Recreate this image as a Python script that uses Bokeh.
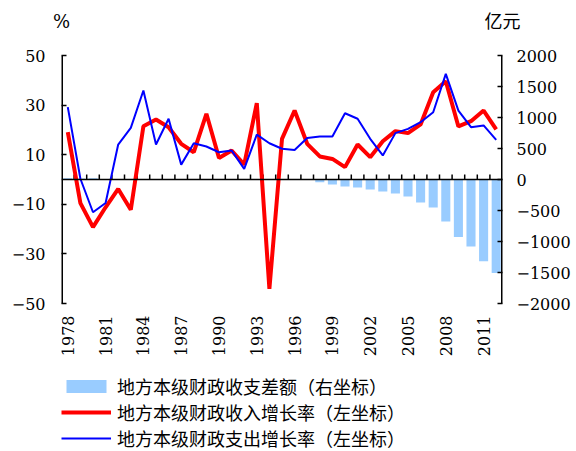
import math
from bokeh.plotting import figure
from bokeh.models import (Range1d, LinearAxis, FixedTicker, Span, Legend, LegendItem,
                          CustomJSTickFormatter, ColumnDataSource)
from bokeh.core.properties import value
from bokeh.embed import file_html
from bokeh.resources import INLINE

years = list(range(1978, 2013))
revenue_growth = [19.1, -9.5, -19.2, -11.2, -3.8, -12.2, 21.5, 24.2, 21.1, 14.4,
                  11.0, 26.5, 8.7, 11.7, 6.0, 30.8, -44.1, 16.4, 27.8, 14.4,
                  9.3, 8.3, 5.0, 14.1, 9.0, 15.4, 19.5, 18.7, 22.2, 35.2,
                  39.6, 21.4, 23.5, 27.8, 20.2]
expenditure_growth = [29.2, 0.3, -13.2, -9.5, 14.1, 20.8, 35.9, 14.1, 24.5, 6.0,
                      14.6, 13.3, 11.0, 11.7, 4.3, 18.1, 14.6, 12.4, 11.9, 16.7,
                      17.3, 17.3, 26.7, 24.5, 16.4, 9.7, 18.7, 20.4, 23.1, 27.1,
                      42.6, 27.8, 21.1, 21.8, 16.0]
balance = [20, 15, 20, 0, 0, 0, 0, 0, 0, 0,
           0, 0, 0, 0, 0, 0, 0, 0, 0, 0,
           -43, -80, -113, -129, -161, -193, -225, -274, -370, -451,
           -677, -929, -1079, -1320, -1509]
left_ticks = [-50, -30, -10, 10, 30, 50]
right_ticks = [-2000, -1500, -1000, -500, 0, 500, 1000, 1500, 2000]
year_ticks = years[::3]

label_bar = "地方本级财政收支差额（右坐标）"
label_rev = "地方本级财政收入增长率（左坐标）"
label_exp = "地方本级财政支出增长率（左坐标）"
unit_labels = ["%", "亿元"]   # left-axis unit, right-axis unit

NUM_FONT = "DejaVu Serif"
CJK_FONT = "Noto Sans CJK SC"

# layout: the value axes cover AXIS_H px at the top of a taller frame whose lower part
# holds the year labels and the legend
FRAME_W, FRAME_H, AXIS_H = 441, 396, 248
left_per_px = (left_ticks[-1] - left_ticks[0]) / AXIS_H
right_per_px = (right_ticks[-1] - right_ticks[0]) / AXIS_H
left_start = left_ticks[-1] - FRAME_H * left_per_px
right_start = right_ticks[-1] - FRAME_H * right_per_px
x_start, x_end = years[0] - 0.5, years[-1] + 0.5

src = ColumnDataSource(dict(year=years, rev=revenue_growth, exp=expenditure_growth, bal=balance))
tick_src = ColumnDataSource(dict(x=[y - 0.5 for y in years[1:]],
                                 y0=[0] * (len(years) - 1),
                                 y1=[5 * left_per_px] * (len(years) - 1)))
year_src = ColumnDataSource(dict(x=year_ticks,
                                 y=[left_ticks[0] - 12 * left_per_px] * len(year_ticks),
                                 t=[str(y) for y in year_ticks]))
axis_src = ColumnDataSource(dict(x=[x_start, x_end],
                                 y0=[left_ticks[0]] * 2, y1=[left_ticks[-1]] * 2))

p = figure(width=576, height=451, frame_width=FRAME_W, frame_height=FRAME_H,
           output_backend="svg", toolbar_location=None, x_axis_location=None,
           x_range=Range1d(x_start, x_end),
           y_range=Range1d(left_start, left_ticks[-1]),
           min_border_left=61, min_border_right=74, min_border_top=55, min_border_bottom=0)
p.extra_y_ranges = {"right": Range1d(right_start, right_ticks[-1])}
p.extra_x_ranges = {"units": Range1d(0, 1)}
p.grid.visible = False
p.outline_line_color = None
p.background_fill_color = "white"
p.border_fill_color = "white"

minus_fmt = CustomJSTickFormatter(code="return tick < 0 ? '\u2212' + Math.abs(tick) : String(tick);")


def style_value_axis(ax, standoff):
    ax.major_tick_in = 5
    ax.major_tick_out = 0
    ax.minor_tick_in = 0
    ax.minor_tick_out = 0
    ax.axis_line_color = None
    ax.major_tick_line_color = "black"
    ax.major_tick_line_width = 1.5
    ax.major_label_standoff = standoff
    ax.major_label_text_font = NUM_FONT
    ax.major_label_text_font_size = "16px"
    ax.major_label_text_color = "black"


# left axis
ya = p.yaxis[0]
ya.ticker = FixedTicker(ticks=left_ticks)
ya.formatter = minus_fmt
style_value_axis(ya, 16)

# right axis
ra = LinearAxis(y_range_name="right", ticker=FixedTicker(ticks=right_ticks), formatter=minus_fmt)
style_value_axis(ra, 14)
p.add_layout(ra, "right")

# unit captions above the two value axes
ua = LinearAxis(x_range_name="units", ticker=FixedTicker(ticks=[0, 1]),
                major_label_overrides={0: unit_labels[0], 1: unit_labels[1]})
ua.axis_line_color = None
ua.major_tick_in = 0
ua.major_tick_out = 0
ua.minor_tick_in = 0
ua.minor_tick_out = 0
ua.major_label_standoff = 24
ua.major_label_text_font = "'DejaVu Serif', 'Noto Sans CJK SC'"
ua.major_label_text_font_size = "18px"
ua.major_label_text_color = "black"
p.add_layout(ua, "above")

bars = p.vbar(x="year", top="bal", bottom=0, width=0.72, source=src, y_range_name="right",
              fill_color="#99CCFF", line_color=None)

# value-axis lines (only over the value span)
p.segment(x0="x", x1="x", y0="y0", y1="y1", source=axis_src, line_color="black", line_width=3)

# category axis on the zero line
p.add_layout(Span(location=0, dimension="width", line_color="black", line_width=1.5))
p.segment(x0="x", x1="x", y0="y0", y1="y1", source=tick_src, line_color="black", line_width=1.5)

# year labels under the value area
p.text(x="x", y="y", text="t", source=year_src, angle=math.pi / 2,
       text_align="right", text_baseline="middle",
       text_font=value(NUM_FONT), text_font_size="16px", text_color="black")

red = p.line(x="year", y="rev", source=src, line_color="#FF0000", line_width=4)
blue = p.line(x="year", y="exp", source=src, line_color="#0000FF", line_width=2)

legend = Legend(items=[LegendItem(label=label_bar, renderers=[bars]),
                       LegendItem(label=label_rev, renderers=[red]),
                       LegendItem(label=label_exp, renderers=[blue])],
                location="bottom_left", orientation="vertical",
                border_line_color=None, background_fill_alpha=0,
                padding=1, margin=0, spacing=0,
                glyph_width=50, glyph_height=16, label_height=20, label_standoff=6,
                label_text_font=CJK_FONT, label_text_font_size="18px", label_text_color="black")
p.add_layout(legend)

open("out.html", "w").write(file_html(p, INLINE))
